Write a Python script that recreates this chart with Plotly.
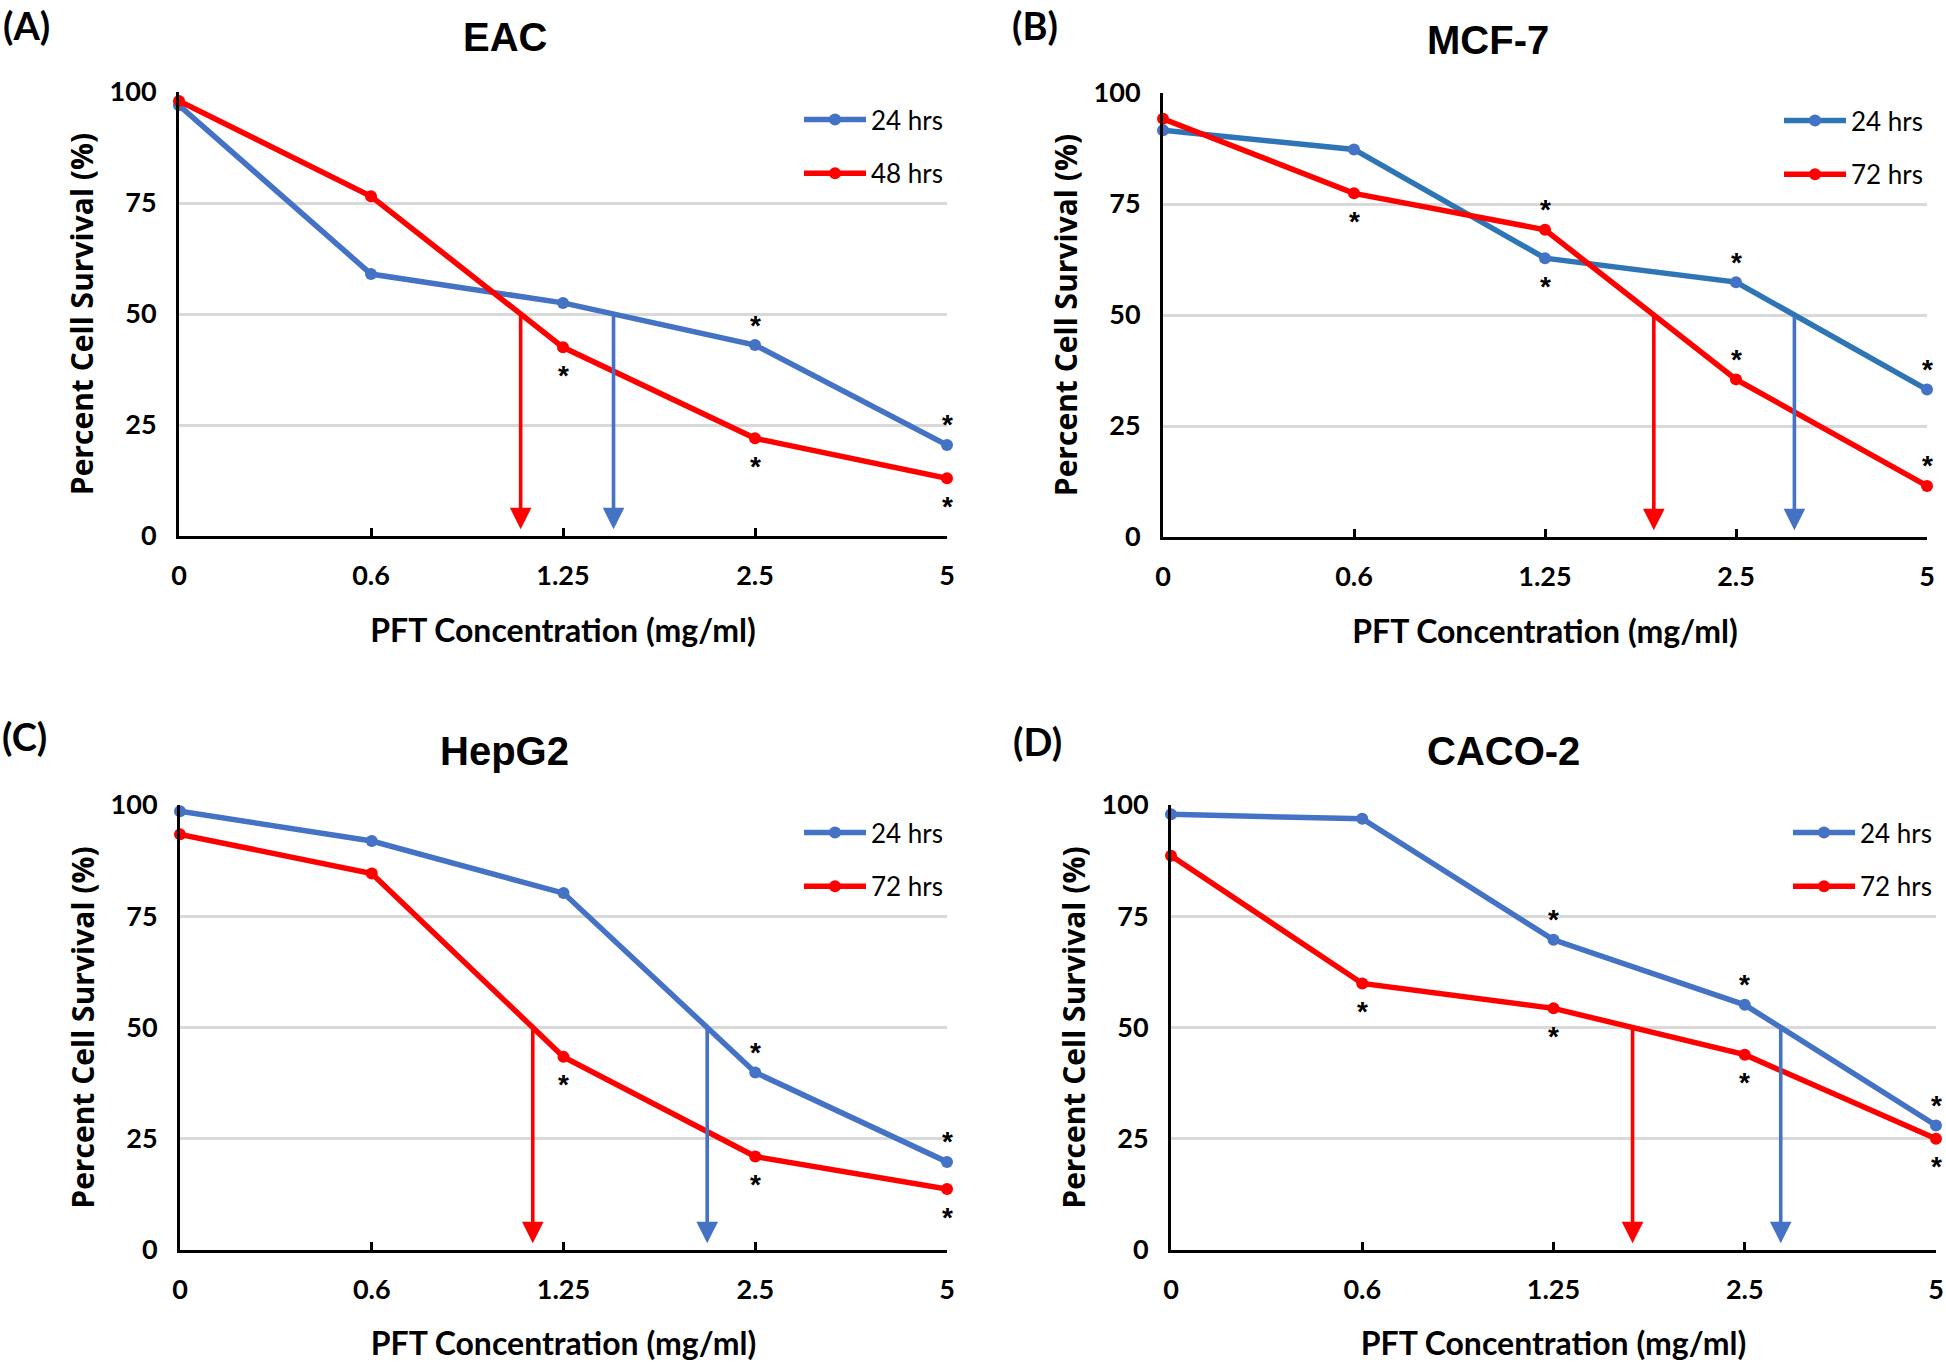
import plotly.graph_objects as go

# ---------------- data ----------------
conc_labels = ["0", "0.6", "1.25", "2.5", "5"]

panel_titles = ["EAC", "MCF-7", "HepG2", "CACO-2"]
panel_letters = ["(A)", "(B)", "(C)", "(D)"]
second_names = ["48 hrs", "72 hrs", "72 hrs", "72 hrs"]

eac_24 = [97, 59, 52.5, 43, 20.5]
eac_48 = [98, 76.5, 42.5, 22, 13]
mcf7_24 = [91.6, 87.3, 62.8, 57.4, 33.2]
mcf7_72 = [94.2, 77.4, 69.2, 35.5, 11.5]
hepg2_24 = [98.6, 91.9, 80.2, 39.9, 19.8]
hepg2_72 = [93.4, 84.6, 43.4, 21.0, 13.7]
caco2_24 = [97.9, 96.9, 69.7, 55.1, 28.0]
caco2_72 = [88.6, 59.9, 54.3, 43.9, 25.0]

# significance asterisks: "a" = above point, "b" = below point, "" = none
eac_24_sig = ["", "", "", "a", "a"]
eac_48_sig = ["", "", "b", "b", "b"]
mcf7_24_sig = ["", "", "b", "a", "a"]
mcf7_72_sig = ["", "b", "a", "a", "a"]
hepg2_24_sig = ["", "", "", "a", "a"]
hepg2_72_sig = ["", "", "b", "b", "b"]
caco2_24_sig = ["", "", "a", "a", "a"]
caco2_72_sig = ["", "b", "b", "b", "b"]

series_first = [eac_24, mcf7_24, hepg2_24, caco2_24]
series_second = [eac_48, mcf7_72, hepg2_72, caco2_72]
sig_first = [eac_24_sig, mcf7_24_sig, hepg2_24_sig, caco2_24_sig]
sig_second = [eac_48_sig, mcf7_72_sig, hepg2_72_sig, caco2_72_sig]

# ---------------- styling / layout ----------------
W, H = 1946, 1362
BLUE = "#4472C4"
BLUE_B = "#2E75B6"
RED = "#FF0000"
GRID = "#D9D9D9"
TICK_FONT = "Lato"
LABEL_FONT = "Lato"
YTITLE_FONT = "Open Sans"
TITLE_FONT = "Liberation Sans"

# plot-area pixel boxes: (left, right, top, bottom)
boxes = [
    (179, 947, 92, 536),
    (1163, 1927, 93, 537),
    (180, 947, 805, 1250),
    (1171, 1936, 805, 1250),
]
title_pos = [(505, 37), (1488, 40), (505, 751), (1503, 751)]
letter_pos = [(26, 25), (1035, 25), (24, 736), (1037, 741)]

fig = go.Figure()
xs = list(range(len(conc_labels)))


def ic50_index(vals):
    for i in range(len(vals) - 1):
        if vals[i] >= 50 >= vals[i + 1]:
            return i + (vals[i] - 50) / (vals[i] - vals[i + 1])
    return None


annotations = []
for p in range(4):
    sfx = "" if p == 0 else str(p + 1)
    xa, ya = "x" + sfx, "y" + sfx
    leg = "legend" + sfx
    line_blue = BLUE_B if p == 1 else BLUE
    fig.add_trace(go.Scatter(
        x=xs, y=series_first[p], mode="lines+markers", name="24 hrs",
        line=dict(color=line_blue, width=5.5),
        marker=dict(color=BLUE, size=12),
        xaxis=xa, yaxis=ya, legend=leg, legendgroup=f"a{p}",
        cliponaxis=False,
    ))
    fig.add_trace(go.Scatter(
        x=xs, y=series_second[p], mode="lines+markers", name=second_names[p],
        line=dict(color=RED, width=5.5),
        marker=dict(color=RED, size=12),
        xaxis=xa, yaxis=ya, legend=leg, legendgroup=f"b{p}",
        cliponaxis=False,
    ))

    l, r, t, b = boxes[p]
    fig.update_layout({
        ("xaxis" + sfx): dict(
            domain=[l / W, r / W], anchor=ya, range=[0, 4], automargin=False,
            tickmode="array", tickvals=xs, ticktext=conc_labels,
            ticks="inside", ticklen=8, tickwidth=3, tickcolor="black",
            showline=True, linecolor="black", linewidth=3,
            showgrid=False, zeroline=False,
            tickfont=dict(family=TICK_FONT, size=27, color="black", weight="bold"),
            ticklabelstandoff=14,
            title=dict(text="PFT Concentration (mg/ml)", standoff=30,
                       font=dict(family=LABEL_FONT, size=32, color="black", weight="bold")),
        ),
        ("yaxis" + sfx): dict(
            domain=[1 - b / H, 1 - t / H], anchor=xa, range=[0, 100], automargin=False,
            tickmode="array", tickvals=[0, 25, 50, 75, 100],
            showline=True, linecolor="black", linewidth=3,
            showgrid=True, gridcolor=GRID, gridwidth=2.5, zeroline=False,
            ticks="",
            tickfont=dict(family=TICK_FONT, size=27, color="black", weight="bold"),
            ticklabelstandoff=14,
            title=dict(text="Percent Cell Survival (%)", standoff=8,
                       font=dict(family=YTITLE_FONT, size=30, color="black", weight="bold")),
        ),
        leg: dict(
            x=(r - 148) / W, y=1 - (t + 4) / H, xanchor="left", yanchor="top",
            bgcolor="rgba(0,0,0,0)", itemwidth=62, tracegroupgap=17,
            traceorder="grouped",
            font=dict(family=LABEL_FONT, size=26, color="black"),
        ),
    })

    # IC50 arrows
    for vals, col in ((series_second[p], RED), (series_first[p], BLUE)):
        xc = ic50_index(vals)
        annotations.append(dict(
            x=xc, y=1.5, ax=xc, ay=50, xref=xa, yref=ya, axref=xa, ayref=ya,
            text="", showarrow=True, arrowhead=2, arrowsize=1.2, arrowwidth=3.6,
            arrowcolor=col, standoff=0, startstandoff=0,
        ))

    # asterisks
    for vals, sig in ((series_first[p], sig_first[p]), (series_second[p], sig_second[p])):
        for i, s in enumerate(sig):
            if not s:
                continue
            annotations.append(dict(
                x=i, y=vals[i], xref=xa, yref=ya, text="*", showarrow=False,
                yshift=20 if s == "a" else -28,
                font=dict(family="Liberation Sans", size=28, color="black", weight="bold"),
            ))

    tx, ty = title_pos[p]
    annotations.append(dict(
        x=tx / W, y=1 - ty / H, xref="paper", yref="paper", text=panel_titles[p],
        showarrow=False, xanchor="center", yanchor="middle",
        font=dict(family=TITLE_FONT, size=40, color="black", weight="bold"),
    ))
    lx, ly = letter_pos[p]
    annotations.append(dict(
        x=lx / W, y=1 - ly / H, xref="paper", yref="paper", text=panel_letters[p],
        showarrow=False, xanchor="center", yanchor="middle",
        font=dict(family=LABEL_FONT, size=38, color="black", weight="bold"),
    ))

fig.update_layout(
    template="none",
    width=W, height=H, margin=dict(l=0, r=0, t=0, b=0, autoexpand=False),
    paper_bgcolor="white", plot_bgcolor="white",
    annotations=annotations, showlegend=True,
)

fig.write_html(
    "out.html",
    config={"displayModeBar": False},
    post_script="document.body.style.margin='0';document.body.style.overflow='hidden';",
)
